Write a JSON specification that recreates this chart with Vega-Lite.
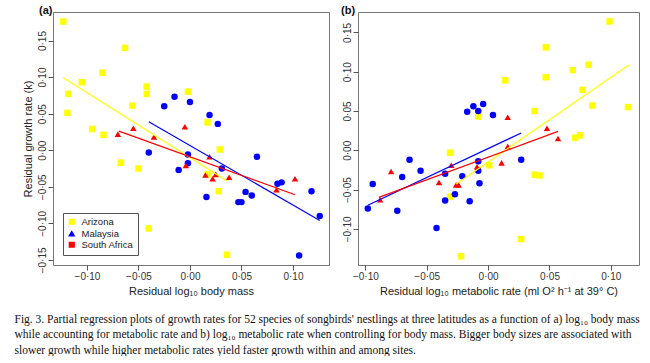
{
  "$schema": "https://vega.github.io/schema/vega-lite/v6.json",
  "background": "white",
  "padding": {"left": 14, "top": 4, "right": 5, "bottom": 0},
  "datasets": {
    "a_pts": [
      {"site": "Arizona", "x": -0.123, "y": 0.176}, {"site": "Arizona", "x": -0.118, "y": 0.077}, {"site": "Arizona", "x": -0.119, "y": 0.051},
      {"site": "Arizona", "x": -0.105, "y": 0.093}, {"site": "Arizona", "x": -0.095, "y": 0.029}, {"site": "Arizona", "x": -0.085, "y": 0.106},
      {"site": "Arizona", "x": -0.084, "y": 0.021}, {"site": "Arizona", "x": -0.063, "y": 0.140}, {"site": "Arizona", "x": -0.056, "y": 0.061},
      {"site": "Arizona", "x": -0.042, "y": 0.087}, {"site": "Arizona", "x": -0.042, "y": 0.077}, {"site": "Arizona", "x": -0.002, "y": 0.080},
      {"site": "Arizona", "x": 0.017, "y": 0.038}, {"site": "Arizona", "x": 0.029, "y": 0.001}, {"site": "Arizona", "x": -0.067, "y": -0.017},
      {"site": "Arizona", "x": -0.050, "y": -0.025}, {"site": "Arizona", "x": 0.017, "y": -0.033}, {"site": "Arizona", "x": 0.028, "y": -0.056},
      {"site": "Arizona", "x": -0.040, "y": -0.107}, {"site": "Arizona", "x": 0.036, "y": -0.143},
      {"site": "Malaysia", "x": -0.025, "y": 0.060}, {"site": "Malaysia", "x": -0.015, "y": 0.073}, {"site": "Malaysia", "x": 0.000, "y": 0.066},
      {"site": "Malaysia", "x": 0.019, "y": 0.048}, {"site": "Malaysia", "x": 0.027, "y": 0.036}, {"site": "Malaysia", "x": -0.040, "y": -0.003},
      {"site": "Malaysia", "x": -0.002, "y": -0.006}, {"site": "Malaysia", "x": -0.002, "y": -0.018}, {"site": "Malaysia", "x": -0.011, "y": -0.027},
      {"site": "Malaysia", "x": 0.031, "y": -0.025}, {"site": "Malaysia", "x": 0.065, "y": -0.009}, {"site": "Malaysia", "x": 0.016, "y": -0.064},
      {"site": "Malaysia", "x": 0.054, "y": -0.057}, {"site": "Malaysia", "x": 0.060, "y": -0.062}, {"site": "Malaysia", "x": 0.047, "y": -0.071},
      {"site": "Malaysia", "x": 0.050, "y": -0.071}, {"site": "Malaysia", "x": 0.085, "y": -0.046}, {"site": "Malaysia", "x": 0.089, "y": -0.044},
      {"site": "Malaysia", "x": 0.118, "y": -0.056}, {"site": "Malaysia", "x": 0.126, "y": -0.090}, {"site": "Malaysia", "x": 0.106, "y": -0.144},
      {"site": "South Africa", "x": -0.070, "y": 0.022}, {"site": "South Africa", "x": -0.055, "y": 0.030}, {"site": "South Africa", "x": -0.035, "y": 0.018},
      {"site": "South Africa", "x": -0.005, "y": 0.032}, {"site": "South Africa", "x": -0.004, "y": -0.021}, {"site": "South Africa", "x": 0.019, "y": -0.009},
      {"site": "South Africa", "x": 0.015, "y": -0.034}, {"site": "South Africa", "x": 0.025, "y": -0.033}, {"site": "South Africa", "x": 0.022, "y": -0.039},
      {"site": "South Africa", "x": 0.038, "y": -0.037}, {"site": "South Africa", "x": 0.084, "y": -0.054}, {"site": "South Africa", "x": 0.102, "y": -0.039}
    ],
    "a_lines": [
      {"site": "Arizona", "x": -0.123, "y": 0.099}, {"site": "Arizona", "x": 0.036, "y": -0.042},
      {"site": "Malaysia", "x": -0.040, "y": 0.039}, {"site": "Malaysia", "x": 0.126, "y": -0.096},
      {"site": "South Africa", "x": -0.069, "y": 0.026}, {"site": "South Africa", "x": 0.102, "y": -0.061}
    ],
    "b_pts": [
      {"site": "Arizona", "x": 0.099, "y": 0.164}, {"site": "Arizona", "x": 0.047, "y": 0.131}, {"site": "Arizona", "x": 0.047, "y": 0.093},
      {"site": "Arizona", "x": 0.069, "y": 0.102}, {"site": "Arizona", "x": 0.082, "y": 0.109}, {"site": "Arizona", "x": 0.077, "y": 0.077},
      {"site": "Arizona", "x": 0.085, "y": 0.057}, {"site": "Arizona", "x": 0.114, "y": 0.055}, {"site": "Arizona", "x": 0.014, "y": 0.089},
      {"site": "Arizona", "x": 0.038, "y": 0.050}, {"site": "Arizona", "x": -0.008, "y": 0.043}, {"site": "Arizona", "x": 0.071, "y": 0.016},
      {"site": "Arizona", "x": 0.075, "y": 0.019}, {"site": "Arizona", "x": -0.031, "y": -0.003}, {"site": "Arizona", "x": 0.001, "y": -0.019},
      {"site": "Arizona", "x": 0.038, "y": -0.031}, {"site": "Arizona", "x": 0.042, "y": -0.032}, {"site": "Arizona", "x": -0.031, "y": -0.059},
      {"site": "Arizona", "x": -0.022, "y": -0.135}, {"site": "Arizona", "x": 0.027, "y": -0.113},
      {"site": "Malaysia", "x": -0.017, "y": 0.049}, {"site": "Malaysia", "x": -0.012, "y": 0.056}, {"site": "Malaysia", "x": -0.004, "y": 0.059},
      {"site": "Malaysia", "x": -0.008, "y": 0.050}, {"site": "Malaysia", "x": 0.004, "y": 0.045}, {"site": "Malaysia", "x": -0.064, "y": -0.012},
      {"site": "Malaysia", "x": -0.055, "y": -0.026}, {"site": "Malaysia", "x": -0.070, "y": -0.034}, {"site": "Malaysia", "x": -0.094, "y": -0.043},
      {"site": "Malaysia", "x": -0.098, "y": -0.074}, {"site": "Malaysia", "x": -0.074, "y": -0.077}, {"site": "Malaysia", "x": -0.035, "y": -0.030},
      {"site": "Malaysia", "x": -0.021, "y": -0.033}, {"site": "Malaysia", "x": -0.008, "y": -0.026}, {"site": "Malaysia", "x": -0.008, "y": -0.014},
      {"site": "Malaysia", "x": -0.007, "y": -0.042}, {"site": "Malaysia", "x": -0.027, "y": -0.056}, {"site": "Malaysia", "x": -0.035, "y": -0.064},
      {"site": "Malaysia", "x": -0.015, "y": -0.065}, {"site": "Malaysia", "x": -0.042, "y": -0.099}, {"site": "Malaysia", "x": 0.027, "y": -0.012},
      {"site": "South Africa", "x": 0.016, "y": 0.042}, {"site": "South Africa", "x": 0.048, "y": 0.028}, {"site": "South Africa", "x": 0.057, "y": 0.015},
      {"site": "South Africa", "x": 0.016, "y": 0.005}, {"site": "South Africa", "x": -0.079, "y": -0.027}, {"site": "South Africa", "x": -0.088, "y": -0.063},
      {"site": "South Africa", "x": -0.040, "y": -0.041}, {"site": "South Africa", "x": -0.030, "y": -0.019}, {"site": "South Africa", "x": -0.026, "y": -0.044},
      {"site": "South Africa", "x": -0.024, "y": -0.044}, {"site": "South Africa", "x": -0.009, "y": -0.021}, {"site": "South Africa", "x": 0.011, "y": -0.016}
    ],
    "b_lines": [
      {"site": "Arizona", "x": -0.026, "y": -0.043}, {"site": "Arizona", "x": 0.115, "y": 0.109},
      {"site": "Malaysia", "x": -0.098, "y": -0.070}, {"site": "Malaysia", "x": 0.027, "y": 0.022},
      {"site": "South Africa", "x": -0.089, "y": -0.060}, {"site": "South Africa", "x": 0.057, "y": 0.024}
    ]
  },
  "title": {
    "text": [
      "Fig. 3. Partial regression plots of growth rates for 52 species of songbirds' nestlings at three latitudes as a function of a) log₁₀ body mass",
      "while accounting for metabolic rate and b) log₁₀ metabolic rate when controlling for body mass. Bigger body sizes are associated with",
      "slower growth while higher metabolic rates yield faster growth within and among sites."
    ],
    "orient": "bottom", "anchor": "start", "frame": "bounds",
    "font": "Liberation Serif", "fontSize": 11.5, "fontWeight": "normal", "color": "#111",
    "lineHeight": 15.5, "offset": 17, "dx": -7
  },
  "spacing": 10,
  "resolve": {"scale": {"color": "independent", "shape": "independent"}, "legend": {"color": "independent", "shape": "independent"}},
  "hconcat": [
    {
      "width": 276, "height": 253,
      "title": {"text": "(a)", "anchor": "start", "frame": "group", "dx": -14, "offset": -4, "fontSize": 11, "fontWeight": "bold", "font": "Liberation Sans", "color": "#111"},
      "layer": [
        {
          "data": {"name": "a_pts"},
          "transform": [{"filter": "false"}],
          "mark": {"type": "point", "filled": true, "opacity": 1},
          "encoding": {
            "x": {"field": "x", "type": "quantitative", "scale": {"domain": [-0.133, 0.135], "nice": false, "zero": false},
                  "axis": {"title": "Residual log₁₀ body mass", "values": [-0.1, -0.05, 0, 0.05, 0.1], "labelExpr": "replace(format(datum.value, '.2f'), '.', '·')"}},
            "y": {"field": "y", "type": "quantitative", "scale": {"domain": [-0.157, 0.189], "nice": false, "zero": false},
                  "axis": {"title": "Residual growth rate (k)", "values": [-0.15, -0.1, -0.05, 0, 0.05, 0.1, 0.15], "labelExpr": "replace(format(datum.value, '.2f'), '.', '·')"}},
            "color": {"field": "site", "type": "nominal", "scale": {"domain": ["Arizona", "Malaysia", "South Africa"], "range": ["#FFFF00", "#0000FF", "#FF0000"]},
                      "legend": {"title": null, "orient": "bottom-left", "offset": 10, "padding": 4, "strokeColor": "#555", "fillColor": "white",
                                 "labelFont": "Liberation Sans", "labelFontSize": 9.5, "labelColor": "#222", "symbolSize": 22, "rowPadding": 0, "labelOffset": 5}},
            "shape": {"field": "site", "type": "nominal", "scale": {"domain": ["Arizona", "Malaysia", "South Africa"], "range": ["square", "triangle-up", "square"]},
                      "legend": {"title": null, "orient": "bottom-left", "offset": 10, "padding": 4, "strokeColor": "#555", "fillColor": "white",
                                 "labelFont": "Liberation Sans", "labelFontSize": 9.5, "labelColor": "#222", "symbolSize": 22, "rowPadding": 0, "labelOffset": 5}}
          }
        },
        {
          "data": {"name": "a_pts"},
          "mark": {"type": "point", "filled": true, "opacity": 1, "size": 42},
          "encoding": {
            "x": {"field": "x", "type": "quantitative"},
            "y": {"field": "y", "type": "quantitative"},
            "color": {"field": "site", "type": "nominal", "legend": null},
            "shape": {"condition": [{"test": "datum.site === 'Malaysia'", "value": "circle"}, {"test": "datum.site === 'South Africa'", "value": "triangle-up"}], "value": "square"}
          }
        },
        {
          "data": {"name": "a_lines"},
          "mark": {"type": "line", "strokeWidth": 1.2},
          "encoding": {
            "x": {"field": "x", "type": "quantitative"},
            "y": {"field": "y", "type": "quantitative"},
            "color": {"field": "site", "type": "nominal", "legend": null}
          }
        }
      ]
    },
    {
      "width": 281, "height": 253,
      "title": {"text": "(b)", "anchor": "start", "frame": "group", "dx": -17, "offset": -4, "fontSize": 11, "fontWeight": "bold", "font": "Liberation Sans", "color": "#111"},
      "layer": [
        {
          "data": {"name": "b_pts"},
          "mark": {"type": "point", "filled": true, "opacity": 1, "size": 42},
          "encoding": {
            "x": {"field": "x", "type": "quantitative", "scale": {"domain": [-0.106, 0.123], "nice": false, "zero": false},
                  "axis": {"title": "Residual log₁₀ metabolic rate (ml O² h⁻¹ at 39° C)", "values": [-0.1, -0.05, 0, 0.05, 0.1], "labelExpr": "replace(format(datum.value, '.2f'), '.', '·')"}},
            "y": {"field": "y", "type": "quantitative", "scale": {"domain": [-0.146, 0.176], "nice": false, "zero": false},
                  "axis": {"title": null, "values": [-0.1, -0.05, 0, 0.05, 0.1, 0.15], "labelExpr": "replace(format(datum.value, '.2f'), '.', '·')"}},
            "color": {"field": "site", "type": "nominal", "scale": {"domain": ["Arizona", "Malaysia", "South Africa"], "range": ["#FFFF00", "#0000FF", "#FF0000"]}, "legend": null},
            "shape": {"condition": [{"test": "datum.site === 'Malaysia'", "value": "circle"}, {"test": "datum.site === 'South Africa'", "value": "triangle-up"}], "value": "square"}
          }
        },
        {
          "data": {"name": "b_lines"},
          "mark": {"type": "line", "strokeWidth": 1.2},
          "encoding": {
            "x": {"field": "x", "type": "quantitative"},
            "y": {"field": "y", "type": "quantitative"},
            "color": {"field": "site", "type": "nominal", "legend": null}
          }
        }
      ]
    }
  ],
  "config": {
    "view": {"stroke": "#777", "strokeWidth": 1},
    "axis": {"domain": false, "grid": false, "ticks": true, "tickColor": "#555", "tickSize": 5,
             "labelFont": "Liberation Sans", "labelFontSize": 10, "labelColor": "#333", "labelPadding": 1, "labelOverlap": false, "labelFlush": false,
             "titleFont": "Liberation Sans", "titleFontSize": 11, "titleFontWeight": "normal", "titleColor": "#222", "titlePadding": 4},
    "axisY": {"labelAngle": -90}
  }
}
